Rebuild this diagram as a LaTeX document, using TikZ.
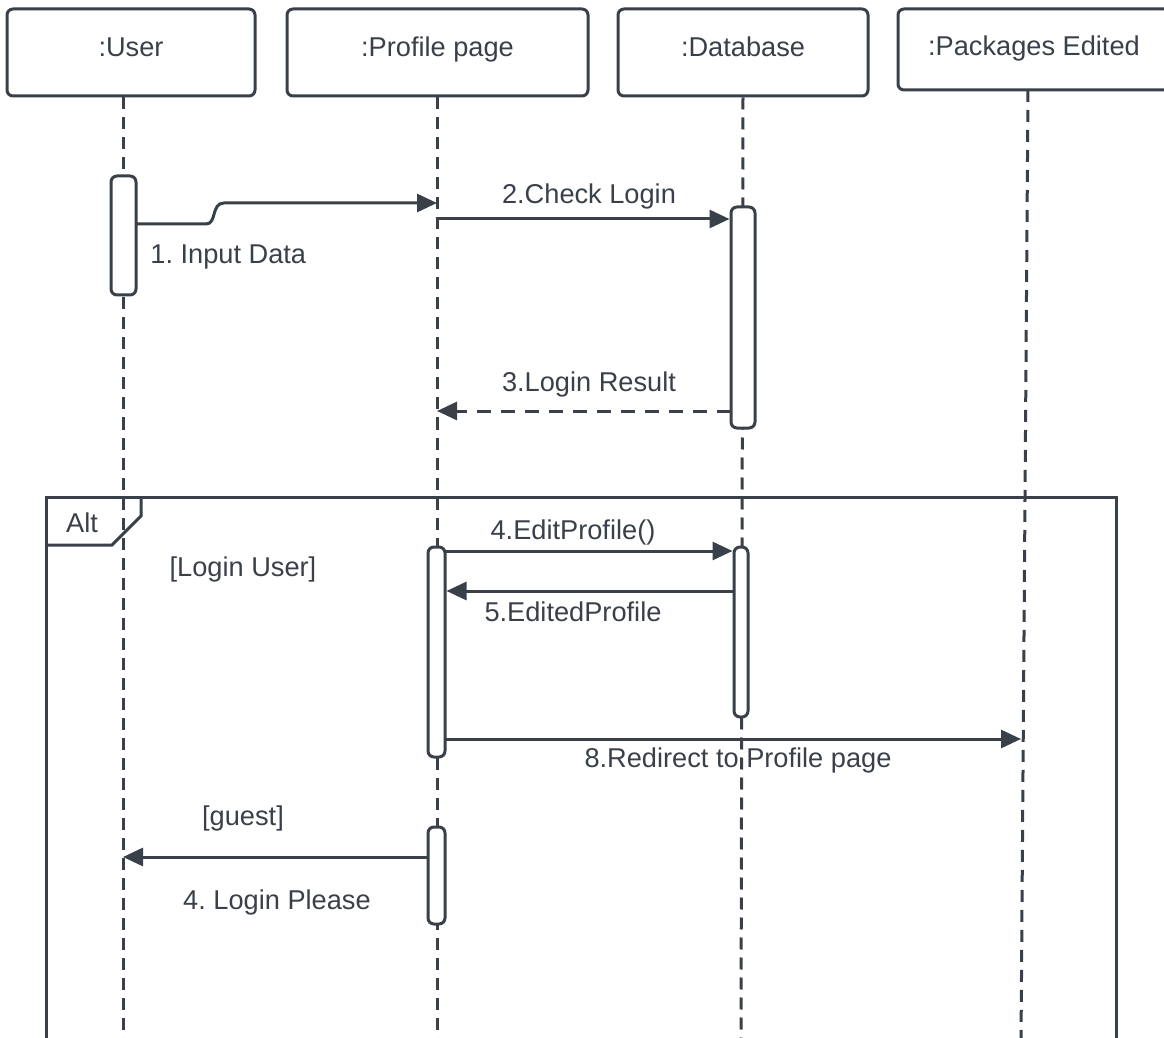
\documentclass[tikz,border=0pt]{standalone}
\usepackage{fontspec}
\setmainfont{Liberation Sans}
\usetikzlibrary{arrows.meta}
\definecolor{ink}{RGB}{58,64,73}
\frenchspacing

\begin{document}
\begin{tikzpicture}[x=0.5pt,y=-0.5pt,
    every node/.style={font=\fontsize{13.6}{16}\selectfont, text=ink},
    head/.style={draw=ink, line width=1.5pt, rounded corners=3pt, inner sep=0pt},
    life/.style={draw=ink, line width=1.5pt, dash pattern=on 6pt off 4pt},
    act/.style={draw=ink, fill=white, line width=1.5pt, rounded corners=3pt, inner sep=0pt},
    msg/.style={draw=ink, line width=1.5pt, -{Triangle[length=10pt,width=9pt]}},
    lbl/.style={inner sep=0pt}]
  \useasboundingbox (0,0) rectangle (1164,1038);

  % heads
  \node[head, minimum width=124pt, minimum height=43.5pt] (user) at (131,52.5) {};
  \node[head, minimum width=150.5pt, minimum height=43.5pt] (prof) at (437.5,52.5) {};
  \node[head, minimum width=125pt, minimum height=43.5pt] (db) at (743,52.5) {};
  \node[head, minimum width=136pt, minimum height=40.5pt] (pkg) at (1034,49.5) {};
  \node[lbl, anchor=base] (usert) at (131,57) {:User};
  \node[lbl, anchor=base] (proft) at (437.5,57) {:Profile page};
  \node[lbl, anchor=base] (dbt) at (743,57) {:Database};
  \node[lbl, anchor=base] (pkgt) at (1034,55.5) {:Packages Edited};

  % lifelines
  \coordinate (userend) at (123,1045);
  \coordinate (profend) at (437,1045);
  \coordinate (dbend) at (741,1045);
  \coordinate (pkgtop) at (1028,90);
  \coordinate (pkgend) at (1021,1045);
  \draw[life] (user.south -| userend) -- (userend);
  \draw[life] (prof.south -| profend) -- (profend);
  \draw[life] (db.south) -- (dbend);
  \draw[life] (pkgtop) -- (pkgend);

  % alt frame
  \coordinate (fbl) at (46,1045);
  \coordinate (ftl) at (46,497);
  \coordinate (ftr) at (1116,497);
  \coordinate (fbr) at (1116,1045);
  \draw[draw=ink, line width=1.5pt] (fbl) -- (ftl) -- (ftr) -- (fbr);
  \coordinate (tab1) at (46,545);
  \coordinate (tab2) at (112,545);
  \coordinate (tab3) at (141,516);
  \coordinate (tab4) at (141,497);
  \draw[draw=ink, line width=1.5pt] (tab1) -- (tab2) -- (tab3) -- (tab4);
  \node[lbl] (alt) at (82,523) {Alt};
  \node[lbl] (guard1) at (243,569) {[Login User]};
  \node[lbl] (guard2) at (243,818) {[guest]};

  % activations
  \node[act, minimum width=12.5pt, minimum height=59.5pt] (ua) at (123.5,235.5) {};
  \node[act, minimum width=12pt, minimum height=110.5pt] (da) at (743,317.5) {};
  \node[act, minimum width=8.5pt, minimum height=105pt] (pa) at (436.5,652) {};
  \node[act, minimum width=7pt, minimum height=85pt] (db2) at (741,632) {};
  \node[act, minimum width=8.5pt, minimum height=48.5pt] (pb) at (436.5,875.5) {};

  % messages
  \coordinate (m1a) at (136,224);
  \coordinate (m1b) at (206,224);
  \coordinate (m1c) at (224,203);
  \coordinate (m1d) at (437,203);
  \draw[msg] (m1a) -- (m1b) .. controls (217,224) and (211,203) .. (m1c) -- (m1d);
  \node[lbl, anchor=west] (l1) at (150,257) {1. Input Data};

  \coordinate (m2a) at (437,219);
  \draw[msg] (m2a) -- (m2a -| da.west);
  \node[lbl] (l2) at (589,196) {2.Check Login};

  \coordinate (m3a) at (731,411);
  \coordinate (m3b) at (437,411);
  \draw[msg, dash pattern=on 7pt off 5pt] (m3a) -- (m3b);
  \node[lbl] (l3) at (589,384) {3.Login Result};

  \coordinate (m4a) at (445,551);
  \draw[msg] (m4a) -- (m4a -| db2.west);
  \node[lbl] (l4) at (573,532) {4.EditProfile()};

  \coordinate (m5a) at (734,591);
  \draw[msg] (m5a) -- (m5a -| pa.east);
  \node[lbl] (l5) at (573,612) {5.EditedProfile};

  \coordinate (m8a) at (445,739);
  \coordinate (m8b) at (1021,739);
  \draw[msg] (m8a) -- (m8b);
  \node[lbl] (l8) at (738,760) {8.Redirect to Profile page};

  \coordinate (m9a) at (428,857);
  \coordinate (m9b) at (123,857);
  \draw[msg] (m9a) -- (m9b);
  \node[lbl] (l9) at (277,902) {4. Login Please};
\end{tikzpicture}
\end{document}
